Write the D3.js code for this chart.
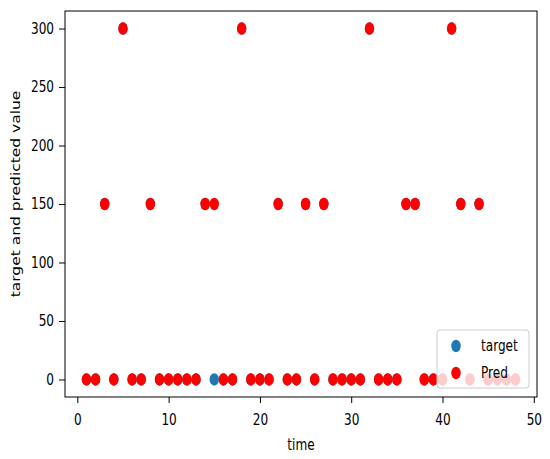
<!DOCTYPE html>
<html>
<head>
<meta charset="utf-8">
<script src="https://cdn.jsdelivr.net/npm/d3@7"></script>
<style>
  body { margin: 0; background: #fff; }
  text { font-family: "DejaVu Sans", sans-serif; fill: #000; }
</style>
</head>
<body>
<div id="chart"></div>
<script>
// time steps 1..48
var time = [1,2,3,4,5,6,7,8,9,10,11,12,13,14,15,16,17,18,19,20,21,22,23,24,
            25,26,27,28,29,30,31,32,33,34,35,36,37,38,39,40,41,42,43,44,45,46,47,48];
var target = [0,0,150,0,300,0,0,150,0,0,0,0,0,150,0,0,0,300,0,0,0,150,0,0,
              150,0,150,0,0,0,0,300,0,0,0,150,150,0,0,0,300,150,0,150,0,0,0,0];
var pred = [0,0,150,0,300,0,0,150,0,0,0,0,0,150,150,0,0,300,0,0,0,150,0,0,
            150,0,150,0,0,0,0,300,0,0,0,150,150,0,0,0,300,150,0,150,0,0,0,0];
var xTicks = [0, 10, 20, 30, 40, 50];
var yTicks = [0, 50, 100, 150, 200, 250, 300];

var width = 550, height = 459;
var box = { left: 65, right: 537, top: 11, bottom: 397 };
var sx = 0.78;          // the picture is squeezed sideways
var fontSize = 15.5;

var svg = d3.select("#chart").append("svg")
  .attr("width", width)
  .attr("height", height);

var xScale = d3.scaleLinear().domain([-1.35, 50.35]).range([box.left, box.right]);
var yScale = d3.scaleLinear().domain([-15, 315]).range([box.bottom, box.top]);

var xAxis = d3.axisBottom(xScale).tickValues(xTicks).tickSize(6).tickSizeOuter(0);
var yAxis = d3.axisLeft(yScale).tickValues(yTicks).tickSize(6).tickSizeOuter(0);

var gx = svg.append("g")
  .attr("transform", "translate(0," + box.bottom + ")")
  .call(xAxis);
gx.select(".domain").remove();
gx.selectAll("line").attr("stroke", "#000");
gx.selectAll("text")
  .attr("y", 28).attr("dy", 0)
  .attr("transform", "scale(" + sx + ",1)")
  .style("font-size", fontSize + "px")
  .style("font-family", "DejaVu Sans")
  .attr("fill", "#000");

var gy = svg.append("g")
  .attr("transform", "translate(" + box.left + ",0)")
  .call(yAxis);
gy.select(".domain").remove();
gy.selectAll("line").attr("stroke", "#000");
gy.selectAll("text")
  .attr("x", -11 / sx)
  .attr("transform", "scale(" + sx + ",1)")
  .style("font-size", fontSize + "px")
  .style("font-family", "DejaVu Sans")
  .attr("fill", "#000");

// target first, prediction drawn over it
function drawDots(values, color) {
  svg.append("g")
    .selectAll("ellipse")
    .data(values.map(function(v, i) { return { x: time[i], y: v }; }))
    .enter().append("ellipse")
    .attr("cx", function(d) { return xScale(d.x); })
    .attr("cy", function(d) { return yScale(d.y); })
    .attr("rx", 4.7)
    .attr("ry", 6.2)
    .attr("fill", color);
}
drawDots(target, "#1f77b4");
drawDots(pred, "#ff0000");

// frame
svg.append("rect")
  .attr("x", box.left).attr("y", box.top)
  .attr("width", box.right - box.left)
  .attr("height", box.bottom - box.top)
  .attr("fill", "none")
  .attr("stroke", "#000")
  .attr("stroke-width", 1);

// axis labels
svg.append("text")
  .attr("transform", "translate(" + ((box.left + box.right) / 2) + ",450) scale(" + sx + ",1)")
  .attr("text-anchor", "middle")
  .style("font-size", fontSize + "px")
  .text("time");

svg.append("text")
  .attr("transform", "translate(20," + ((box.top + box.bottom) / 2 - 10) + ") scale(" + sx + ",1) rotate(-90)")
  .attr("text-anchor", "middle")
  .style("font-size", fontSize + "px")
  .text("target and predicted value");

// legend
var legend = svg.append("g").attr("transform", "translate(437,330)");
legend.append("rect")
  .attr("width", 92).attr("height", 58)
  .attr("rx", 3)
  .attr("fill", "#fff").attr("fill-opacity", 0.8)
  .attr("stroke", "#cccccc");
var legendItems = [
  { label: "target", color: "#1f77b4" },
  { label: "Pred", color: "#ff0000" }
];
legendItems.forEach(function(d, i) {
  var y = 16 + i * 27;
  legend.append("ellipse")
    .attr("cx", 19).attr("cy", y)
    .attr("rx", 4.7).attr("ry", 6.2)
    .attr("fill", d.color);
  legend.append("text")
    .attr("transform", "translate(44," + (y + 5) + ") scale(" + sx + ",1)")
    .style("font-size", fontSize + "px")
    .text(d.label);
});
</script>
</body>
</html>
